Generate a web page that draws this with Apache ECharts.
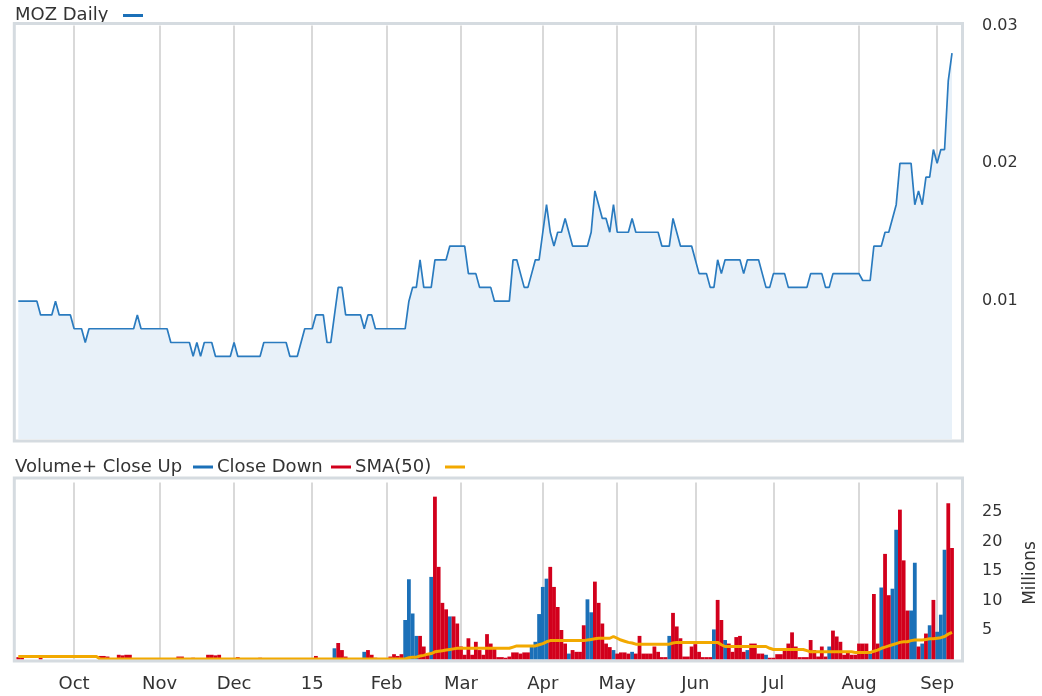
<!DOCTYPE html>
<html><head><meta charset="utf-8">
<script src="https://cdn.jsdelivr.net/npm/echarts@6/dist/echarts.min.js"></script>
<style>html,body{margin:0;padding:0;background:#fff}#c{width:1042px;height:696px}</style>
</head><body><div id="c"></div>
<script>
// ---- trading calendar (ASX) ----
const startDate = '2014-09-10';
const endDate = '2015-09-07';
const holidays = ['2014-12-25','2014-12-26','2015-01-01','2015-01-26','2015-04-03','2015-04-06','2015-06-08'];
const monthTickLabels = ['15','Feb','Mar','Apr','May','Jun','Jul','Aug','Sep','Oct','Nov','Dec'];

// ---- daily close (AUD) ----
const closePrice = [
0.010,0.010,0.010,0.010,0.010,0.010,0.009,0.009,0.009,0.009,
0.010,0.009,0.009,0.009,0.009,0.008,0.008,0.008,0.007,0.008,
0.008,0.008,0.008,0.008,0.008,0.008,0.008,0.008,0.008,0.008,
0.008,0.008,0.009,0.008,0.008,0.008,0.008,0.008,0.008,0.008,
0.008,0.007,0.007,0.007,0.007,0.007,0.007,0.006,0.007,0.006,
0.007,0.007,0.007,0.006,0.006,0.006,0.006,0.006,0.007,0.006,
0.006,0.006,0.006,0.006,0.006,0.006,0.007,0.007,0.007,0.007,
0.007,0.007,0.007,0.006,0.006,0.006,0.007,0.008,0.008,0.008,
0.009,0.009,0.009,0.007,0.007,0.009,0.011,0.011,0.009,0.009,
0.009,0.009,0.009,0.008,0.009,0.009,0.008,0.008,0.008,0.008,
0.008,0.008,0.008,0.008,0.008,0.010,0.011,0.011,0.013,0.011,
0.011,0.011,0.013,0.013,0.013,0.013,0.014,0.014,0.014,0.014,
0.014,0.012,0.012,0.012,0.011,0.011,0.011,0.011,0.010,0.010,
0.010,0.010,0.010,0.013,0.013,0.012,0.011,0.011,0.012,0.013,
0.013,0.015,0.017,0.015,0.014,0.015,0.015,0.016,0.015,0.014,
0.014,0.014,0.014,0.014,0.015,0.018,0.017,0.016,0.016,0.015,
0.017,0.015,0.015,0.015,0.015,0.016,0.015,0.015,0.015,0.015,
0.015,0.015,0.015,0.014,0.014,0.014,0.016,0.015,0.014,0.014,
0.014,0.014,0.013,0.012,0.012,0.012,0.011,0.011,0.013,0.012,
0.013,0.013,0.013,0.013,0.013,0.012,0.013,0.013,0.013,0.013,
0.012,0.011,0.011,0.012,0.012,0.012,0.012,0.011,0.011,0.011,
0.011,0.011,0.011,0.012,0.012,0.012,0.012,0.011,0.011,0.012,
0.012,0.012,0.012,0.012,0.012,0.012,0.012,0.0115,0.0115,0.0115,
0.014,0.014,0.014,0.015,0.015,0.016,0.017,0.020,0.020,0.020,
0.020,0.017,0.018,0.017,0.019,0.019,0.021,0.020,0.021,0.021,
0.026,0.028
];

// ---- daily volume (millions) ----
const volume = [
0.4,0.4,0,0,0,0,0.7,0,0,0,
0,0,0,0,0,0,0,0,0,0,
0,0,0.6,0.6,0.5,0,0,0.8,0.7,0.8,
0.8,0,0,0,0,0,0,0,0,0,
0,0,0,0.5,0.5,0,0,0.3,0,0,
0,0.8,0.8,0.7,0.8,0,0,0,0,0.4,
0,0,0,0,0,0.3,0,0,0,0,
0,0,0,0,0,0,0,0,0,0,
0.6,0,0,0,0,1.9,2.8,1.6,0.5,0,
0,0,0,1.3,1.6,0.8,0.3,0,0,0,
0.5,0.9,0.6,0.9,6.7,13.6,7.8,4.0,4.0,2.2,
0.8,14.0,27.6,15.7,9.6,8.5,7.3,7.3,6.1,2.2,
0.8,3.6,0.8,3.0,1.6,0.8,4.3,2.7,1.9,0.4,
0.4,0.3,0.5,1.2,1.2,1.0,1.2,1.2,2.2,3.0,
7.7,12.3,13.7,15.7,12.3,8.9,5.0,2.7,1.0,1.6,
1.3,1.3,5.8,10.2,8.0,13.2,9.6,6.1,2.7,2.1,
1.6,1.0,1.2,1.2,1.0,1.3,1.0,4.0,1.0,1.0,
1.0,2.2,1.3,0.4,0.4,4.0,7.9,5.6,3.6,0.5,
0.5,2.2,2.6,1.3,0.4,0.4,0.4,5.1,10.1,6.7,
3.3,2.7,1.3,3.8,4.0,1.3,1.6,2.7,2.7,1.0,
1.0,0.8,0.3,0.3,0.9,0.9,1.6,2.7,4.6,2.2,
0.4,0.4,0.4,3.3,1.6,0.5,2.2,0.5,2.2,4.9,
3.9,3.0,0.8,1.1,0.8,0.8,2.7,2.7,2.7,1.0,
11.1,2.7,12.2,17.9,10.9,12.0,22.0,25.4,16.8,8.3,
8.3,16.4,2.2,2.7,4.4,5.8,10.1,4.7,7.6,18.6,
26.5,18.9
];

// ---- indices of "Close Up" days (blue); all others are "Close Down" (red) ----
const closeUpDays = [85,93,104,105,106,107,111,116,138,139,140,141,142,148,153,154,160,165,175,187,190,196,201,218,229,232,235,236,240,241,243,245,247,248,249];

// ---- SMA(50) of volume (millions) ----
const sma50 = [
0.5,0.5,0.5,0.5,0.5,0.5,0.5,0.5,0.5,0.5,
0.5,0.5,0.5,0.5,0.5,0.5,0.5,0.5,0.5,0.5,
0.5,0.5,0.1,0.1,0.1,0.1,0.1,0.1,0.1,0.1,
0.1,0.1,0.1,0.1,0.1,0.1,0.1,0.1,0.1,0.1,
0.1,0.1,0.1,0.1,0.1,0.1,0.1,0.1,0.1,0.1,
0.1,0.1,0.1,0.1,0.1,0.1,0.1,0.1,0.1,0.1,
0.1,0.1,0.1,0.1,0.1,0.1,0.1,0.1,0.1,0.1,
0.1,0.1,0.1,0.1,0.1,0.1,0.1,0.1,0.1,0.1,
0.1,0.1,0.1,0.1,0.1,0.1,0.1,0.1,0.1,0.1,
0.1,0.1,0.1,0.1,0.1,0.1,0.1,0.1,0.1,0.1,
0.1,0.1,0.1,0.1,0.1,0.3,0.4,0.4,0.6,0.7,
0.9,1.0,1.3,1.4,1.5,1.6,1.7,1.8,1.9,1.9,
1.9,1.9,1.9,1.9,1.9,1.9,1.9,1.9,1.9,1.9,
1.9,1.9,1.9,2.1,2.3,2.3,2.3,2.3,2.3,2.3,
2.5,2.7,3.0,3.2,3.2,3.2,3.2,3.2,3.2,3.2,
3.2,3.2,3.2,3.3,3.4,3.5,3.6,3.6,3.6,3.6,
3.9,3.6,3.3,3.1,2.9,2.8,2.6,2.6,2.6,2.6,
2.6,2.6,2.6,2.6,2.6,2.6,2.8,2.9,2.9,2.9,
2.9,2.9,2.9,2.9,2.9,2.9,2.9,2.9,2.9,2.5,
2.2,2.2,2.2,2.2,2.2,2.2,2.2,2.2,2.2,2.2,
2.2,2.2,1.9,1.7,1.7,1.7,1.7,1.7,1.7,1.7,
1.7,1.7,1.5,1.3,1.3,1.3,1.3,1.3,1.3,1.3,
1.3,1.3,1.3,1.3,1.3,1.2,1.2,1.2,1.2,1.2,
1.4,1.6,1.9,2.1,2.3,2.5,2.7,2.9,3.0,3.0,
3.2,3.3,3.3,3.3,3.4,3.5,3.5,3.6,3.7,3.9,
4.3,4.6
];

// ---- build categories ----
const dates = [];
for (let d = new Date(startDate + 'T00:00:00Z'); d <= new Date(endDate + 'T00:00:00Z'); d.setUTCDate(d.getUTCDate() + 1)) {
  const wd = d.getUTCDay();
  const s = d.toISOString().slice(0, 10);
  if (wd === 0 || wd === 6 || holidays.includes(s)) continue;
  dates.push(s);
}
const isMonthStart = (i) => i > 0 && dates[i].slice(5, 7) !== dates[i - 1].slice(5, 7);
const upSet = new Set(closeUpDays);
const upVol = volume.map((v, i) => upSet.has(i) ? v : 0);
const downVol = volume.map((v, i) => upSet.has(i) ? 0 : v);

const FONT = '"DejaVu Sans", Verdana, sans-serif';
const TXT = '#333';
const FRAME = '#d5dbe0';
const GRIDLINE = '#cdcdcd';
const BLUE = '#1b70b8';
const RED = '#d2001c';
const ORANGE = '#f2a900';

const plotLeft = 18.3, plotWidth = 933.7;

const xBase = {
  type: 'category', data: dates, boundaryGap: false,
  axisLine: {show: false}, axisTick: {show: false},
  splitLine: {show: true, interval: (i) => isMonthStart(i), lineStyle: {color: GRIDLINE, width: 1.5}}
};

const chart = echarts.init(document.getElementById('c'));
chart.setOption({
  animation: false,
  backgroundColor: '#fff',
  grid: [
    {left: plotLeft, width: plotWidth, top: 25.5, height: 413.5},
    {left: plotLeft, width: plotWidth, top: 482.5, height: 177}
  ],
  xAxis: [
    Object.assign({}, xBase, {gridIndex: 0, axisLabel: {show: false}}),
    Object.assign({}, xBase, {gridIndex: 1, axisLabel: {
      show: true, interval: (i) => isMonthStart(i),
      formatter: (v) => monthTickLabels[parseInt(v.slice(5, 7), 10) - 1],
      color: TXT, fontFamily: FONT, fontSize: 18, margin: 16
    }})
  ],
  yAxis: [
    {type: 'value', gridIndex: 0, position: 'right', min: 0, max: 0.03, interval: 0.01,
     axisLine: {show: false}, axisTick: {show: false}, splitLine: {show: false},
     axisLabel: {formatter: (v) => v === 0 ? '' : v.toFixed(2), color: TXT, fontFamily: FONT, fontSize: 16, margin: 30, align: 'left'}},
    {type: 'value', gridIndex: 1, position: 'right', min: 0, max: 30, interval: 5,
     axisLine: {show: false}, axisTick: {show: false}, splitLine: {show: false},
     axisLabel: {formatter: (v) => (v === 0 || v === 30) ? '' : String(v), color: TXT, fontFamily: FONT, fontSize: 16, margin: 30, align: 'left'}}
  ],
  series: [
    {name: 'MOZ Daily', type: 'line', xAxisIndex: 0, yAxisIndex: 0, data: closePrice,
     showSymbol: false, symbol: 'none', lineStyle: {color: '#2a7bbf', width: 1.7},
     areaStyle: {color: '#e8f1f9', opacity: 1}, z: 3},
    {name: 'Close Up', type: 'bar', xAxisIndex: 1, yAxisIndex: 1, stack: 'vol', data: upVol,
     barWidth: 3.8, itemStyle: {color: BLUE}, z: 2},
    {name: 'Close Down', type: 'bar', xAxisIndex: 1, yAxisIndex: 1, stack: 'vol', data: downVol,
     barWidth: 3.8, itemStyle: {color: RED}, z: 2},
    {name: 'SMA(50)', type: 'line', xAxisIndex: 1, yAxisIndex: 1, data: sma50,
     showSymbol: false, symbol: 'none', lineStyle: {color: ORANGE, width: 3}, z: 5}
  ],
  graphic: [
    {type: 'rect', silent: true, z: 100, shape: {x: 14.3, y: 23.5, width: 948.2, height: 417.5},
     style: {fill: 'none', stroke: FRAME, lineWidth: 3}},
    {type: 'rect', silent: true, z: 100, shape: {x: 14.3, y: 478, width: 948.2, height: 183},
     style: {fill: 'none', stroke: FRAME, lineWidth: 3}},
    {type: 'text', x: 15, y: 15.5, style: {text: 'MOZ Daily', font: '18px ' + FONT, fill: TXT, align: 'left', verticalAlign: 'middle'}},
    {type: 'line', shape: {x1: 123, y1: 15.5, x2: 143, y2: 15.5}, style: {stroke: BLUE, lineWidth: 3}},
    {type: 'text', x: 15, y: 467, style: {text: 'Volume+ Close Up', font: '18px ' + FONT, fill: TXT, align: 'left', verticalAlign: 'middle'}},
    {type: 'line', shape: {x1: 193, y1: 467, x2: 213, y2: 467}, style: {stroke: BLUE, lineWidth: 3}},
    {type: 'text', x: 217, y: 467, style: {text: 'Close Down', font: '18px ' + FONT, fill: TXT, align: 'left', verticalAlign: 'middle'}},
    {type: 'line', shape: {x1: 331, y1: 467, x2: 351, y2: 467}, style: {stroke: RED, lineWidth: 3}},
    {type: 'text', x: 355, y: 467, style: {text: 'SMA(50)', font: '18px ' + FONT, fill: TXT, align: 'left', verticalAlign: 'middle'}},
    {type: 'line', shape: {x1: 445, y1: 467, x2: 465, y2: 467}, style: {stroke: ORANGE, lineWidth: 3}},
    {type: 'text', x: 1031, y: 573, rotation: Math.PI / 2, style: {text: 'Millions', font: '17px ' + FONT, fill: TXT, align: 'center', verticalAlign: 'middle'}}
  ]
});
</script>
</body></html>
